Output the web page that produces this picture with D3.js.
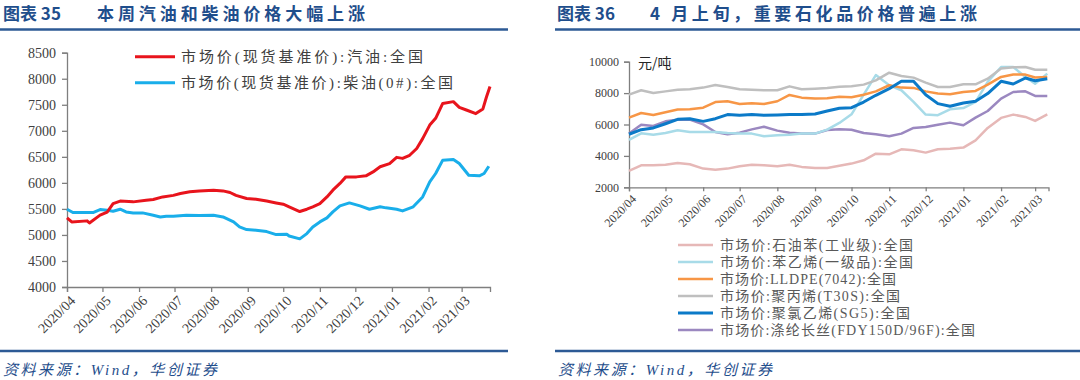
<!DOCTYPE html>
<html><head><meta charset="utf-8">
<script src="https://cdn.jsdelivr.net/npm/d3@7"></script>
<style>
html,body{margin:0;padding:0;background:#fff;}
svg text{font-family:"Liberation Serif","Noto Sans CJK SC",serif;}
</style></head>
<body><svg id="c" width="1080" height="380"></svg>
<script>
// ---------- Left chart data (图表35) ----------
const gasDates = ["2020-04-01","2020-04-05","2020-04-18","2020-04-20","2020-04-29","2020-05-05","2020-05-10","2020-05-16","2020-05-27","2020-06-07","2020-06-13","2020-06-21","2020-06-30","2020-07-06","2020-07-14","2020-07-22","2020-08-03","2020-08-11","2020-08-17","2020-08-22","2020-08-31","2020-09-08","2020-09-17","2020-09-25","2020-10-01","2020-10-06","2020-10-15","2020-10-21","2020-10-26","2020-11-01","2020-11-07","2020-11-12","2020-11-18","2020-11-23","2020-12-02","2020-12-10","2020-12-16","2020-12-22","2020-12-30","2021-01-05","2021-01-10","2021-01-16","2021-01-22","2021-01-27","2021-02-02","2021-02-07","2021-02-13","2021-02-22","2021-02-27","2021-03-05","2021-03-13","2021-03-19","2021-03-22","2021-03-25"];
const gasValues = [5330,5250,5270,5230,5380,5440,5600,5650,5635,5665,5680,5730,5760,5795,5830,5846,5860,5846,5815,5760,5700,5685,5650,5615,5590,5540,5450,5494,5540,5600,5730,5860,5990,6115,6115,6135,6210,6310,6370,6490,6470,6530,6660,6850,7110,7240,7525,7560,7450,7400,7330,7420,7650,7850];
const dieselDates = ["2020-04-01","2020-04-06","2020-04-23","2020-04-29","2020-05-05","2020-05-10","2020-05-16","2020-05-21","2020-05-27","2020-06-04","2020-06-13","2020-06-19","2020-06-24","2020-06-30","2020-07-11","2020-07-22","2020-08-03","2020-08-11","2020-08-20","2020-08-25","2020-08-31","2020-09-08","2020-09-17","2020-09-25","2020-10-04","2020-10-06","2020-10-15","2020-10-21","2020-10-26","2020-11-01","2020-11-07","2020-11-12","2020-11-18","2020-11-26","2020-12-05","2020-12-13","2020-12-22","2020-12-27","2021-01-05","2021-01-10","2021-01-19","2021-01-27","2021-02-02","2021-02-07","2021-02-13","2021-02-22","2021-02-27","2021-03-07","2021-03-16","2021-03-20","2021-03-24"];
const dieselValues = [5494,5430,5430,5487,5474,5455,5494,5442,5423,5423,5378,5346,5360,5360,5378,5372,5378,5346,5250,5154,5103,5090,5064,5006,5013,4980,4925,5026,5154,5250,5327,5442,5558,5615,5558,5494,5540,5520,5494,5462,5540,5730,6020,6180,6436,6449,6372,6147,6135,6180,6320];
const leftYTicks = [4000,4500,5000,5500,6000,6500,7000,7500,8000,8500];
const leftSeriesNames = ["市场价(现货基准价):汽油:全国","市场价(现货基准价):柴油(0#):全国"];

// ---------- Right chart data (图表36) ----------
const periodDates = ["2020-04-01","2020-04-11","2020-04-21","2020-05-01","2020-05-11","2020-05-21","2020-06-01","2020-06-11","2020-06-21","2020-07-01","2020-07-11","2020-07-21","2020-08-01","2020-08-11","2020-08-21","2020-09-01","2020-09-11","2020-09-21","2020-10-01","2020-10-11","2020-10-21","2020-11-01","2020-11-11","2020-11-21","2020-12-01","2020-12-11","2020-12-21","2021-01-01","2021-01-11","2021-01-21","2021-02-01","2021-02-11","2021-02-21","2021-03-01","2021-03-11"];
const benzene   = [3040,3400,3400,3440,3550,3465,3190,3125,3190,3340,3440,3400,3340,3440,3300,3230,3230,3370,3510,3720,4140,4100,4420,4360,4210,4420,4460,4530,4990,5780,6420,6630,6480,6230,6650];
const styrene   = [5015,5440,5350,5460,5630,5520,5520,5520,5460,5420,5420,5250,5310,5350,5420,5420,5670,6100,6650,7900,9150,8500,8180,7440,6630,6590,6970,7050,7440,8710,9660,9660,9030,8600,9240];
const lldpe     = [6440,6730,6610,6780,6950,6970,7070,7430,7480,7310,7350,7310,7480,7880,7710,7650,7670,7770,7730,7900,8110,8500,8350,8330,8110,7970,7920,8070,8140,8540,9030,9180,9180,8990,9030];
const pp        = [7900,8180,8010,8110,8220,8240,8350,8520,8390,8240,8220,8180,8180,8430,8240,8280,8330,8410,8430,8540,8815,9300,9090,8985,8670,8390,8390,8560,8560,8920,9560,9640,9660,9490,9490];
const pvc       = [5380,5670,5780,6050,6330,6370,6200,6370,6630,6590,6630,6590,6610,6630,6630,6670,6860,7040,7070,7430,7860,8280,8750,8750,7900,7330,7160,7370,7480,7970,8750,8580,8960,8790,8920];
const polyester = [5420,5990,5910,6200,6310,6310,6010,5520,5380,5480,5690,5860,5610,5480,5420,5420,5650,5690,5670,5460,5380,5250,5420,5780,5840,5990,6120,5950,6440,6860,7650,8070,8110,7820,7820];
const rightSeriesNames = ["市场价:石油苯(工业级):全国","市场价:苯乙烯(一级品):全国","市场价:LLDPE(7042):全国","市场价:聚丙烯(T30S):全国","市场价:聚氯乙烯(SG5):全国","市场价:涤纶长丝(FDY150D/96F):全国"];
const rightYTicks = [2000,4000,6000,8000,10000];
const monthTicks = ["2020-04-01","2020-05-01","2020-06-01","2020-07-01","2020-08-01","2020-09-01","2020-10-01","2020-11-01","2020-12-01","2021-01-01","2021-02-01","2021-03-01"];

const parse = d3.timeParse("%Y-%m-%d");
const fmt = d3.timeFormat("%Y/%m");
const svg = d3.select("#c");
const titleColor = "#1f4e8c";
const axisColor = "#7f7f7f";
const textColor = "#404040";

// ---------- headers & footers ----------
function header(x0, x1, label, text, labelX, textX, textEnd){
  svg.append("text").attr("x",labelX).attr("y",20).attr("fill",titleColor)
    .attr("font-size",17).attr("font-weight","bold")
    .style("font-family","'Noto Sans CJK SC',sans-serif").text(label);
  svg.append("text").attr("x",textX).attr("y",20).attr("fill",titleColor)
    .attr("font-size",17).attr("font-weight","bold")
    .attr("textLength",textEnd-textX).attr("lengthAdjust","spacing")
    .style("font-family","'Noto Sans CJK SC',sans-serif").text(text);
  svg.append("line").attr("x1",x0).attr("x2",x1).attr("y1",29.5).attr("y2",29.5)
    .attr("stroke","#2d5a95").attr("stroke-width",2.5);
  svg.append("line").attr("x1",x0).attr("x2",x1).attr("y1",351).attr("y2",351)
    .attr("stroke","#2d5a95").attr("stroke-width",2.5);
  svg.append("text").attr("x",x0+3).attr("y",375).attr("fill",titleColor)
    .attr("font-size",15).attr("font-style","italic")
    .attr("textLength",214).attr("lengthAdjust","spacing")
    .text("资料来源：Wind，华创证券");
}
header(0,508,"图表 35","本周汽油和柴油价格大幅上涨",3,97,365);
header(555,1080,"图表 36","4 月上旬，重要石化品价格普遍上涨",557,650,977);

// ---------- Left chart ----------
{
  const x = d3.scaleTime().domain([parse("2020-04-01"),parse("2021-03-25")]).range([67,490]);
  const y = d3.scaleLinear().domain([4000,8500]).range([287,52.7]);
  const gy = svg.append("g").attr("transform","translate(67,0)")
    .call(d3.axisLeft(y).tickValues(leftYTicks).tickSize(5).tickFormat(d3.format("d")));
  gy.selectAll("text").attr("font-size",14).attr("fill",textColor).attr("dx",-3);
  const gx = svg.append("g").attr("transform","translate(0,287)")
    .call(d3.axisBottom(x).tickValues(monthTicks.map(parse)).tickSize(5).tickFormat(fmt));
  gx.selectAll("text").attr("font-size",14).attr("fill",textColor)
    .attr("text-anchor","end").attr("transform","rotate(-45)").attr("dx","-0.3em").attr("dy","0.6em");
  [gx,gy].forEach(g=>{g.selectAll("path,line").attr("stroke",axisColor).attr("stroke-width",1.3);});
  const line = d3.line().x(d=>x(d[0])).y(d=>y(d[1]));
  const colors = ["#e8141c","#19aeea"];
  const series = [gasDates.map((d,i)=>[parse(d),gasValues[i]]), dieselDates.map((d,i)=>[parse(d),dieselValues[i]])];
  series.slice().reverse().forEach((s,i)=>{
    svg.append("path").datum(s).attr("d",line).attr("fill","none")
      .attr("stroke",colors[1-i]).attr("stroke-width",3).attr("stroke-linejoin","round");
  });
  const ends = [423,453];
  leftSeriesNames.forEach((n,i)=>{
    const yy = 56.7 + i*26;
    svg.append("line").attr("x1",135).attr("x2",175).attr("y1",yy).attr("y2",yy)
      .attr("stroke",colors[i]).attr("stroke-width",3);
    svg.append("text").attr("x",181).attr("y",yy+5.5).attr("font-size",15).attr("fill",textColor)
      .attr("textLength",ends[i]-181).attr("lengthAdjust","spacing").text(n);
  });
}

// ---------- Right chart ----------
{
  const x = d3.scaleTime().domain([parse("2020-04-01"),parse("2021-03-12")]).range([629,1048.5]);
  const y = d3.scaleLinear().domain([2000,10000]).range([187.3,61.7]);
  const gy = svg.append("g").attr("transform","translate(629,0)")
    .call(d3.axisLeft(y).tickValues(rightYTicks).tickSize(5).tickFormat(d3.format("d")));
  gy.selectAll("text").attr("font-size",12).attr("fill",textColor).attr("dx",-2);
  const gx = svg.append("g").attr("transform","translate(0,187.3)")
    .call(d3.axisBottom(x).tickValues(monthTicks.map(parse)).tickSize(4).tickFormat(fmt));
  gx.selectAll("text").attr("font-size",12).attr("fill",textColor)
    .attr("text-anchor","end").attr("transform","rotate(-45)").attr("dx","-0.3em").attr("dy","0.6em");
  [gx,gy].forEach(g=>{g.selectAll("path,line").attr("stroke",axisColor).attr("stroke-width",1.3);});
  svg.append("text").attr("x",638).attr("y",68).attr("font-size",14).attr("fill","#262626")
    .style("font-family","'Noto Sans CJK SC',sans-serif").text("元/吨");
  const colors = ["#e6b8b7","#a8dbe8","#f79646","#bfbfbf","#0b7ac8","#9b88c0"];
  const widths = [2.5,2.5,2.5,2.5,3,2.5];
  const all = [benzene,styrene,lldpe,pp,pvc,polyester];
  const line = d3.line().x((d,i)=>x(parse(periodDates[i]))).y(d=>y(d));
  const order = [0,5,1,3,2,4];
  order.forEach(k=>{
    svg.append("path").datum(all[k]).attr("d",line).attr("fill","none")
      .attr("stroke",colors[k]).attr("stroke-width",widths[k]).attr("stroke-linejoin","round");
  });
  const ends = [913,913,896,900,910,975];
  rightSeriesNames.forEach((n,i)=>{
    const yy = 245 + i*17;
    svg.append("line").attr("x1",678).attr("x2",713).attr("y1",yy).attr("y2",yy)
      .attr("stroke",colors[i]).attr("stroke-width",widths[i]);
    svg.append("text").attr("x",720).attr("y",yy+5).attr("font-size",14).attr("fill","#595959")
      .attr("textLength",ends[i]-720).attr("lengthAdjust","spacing").text(n);
  });
}
</script></body></html>
